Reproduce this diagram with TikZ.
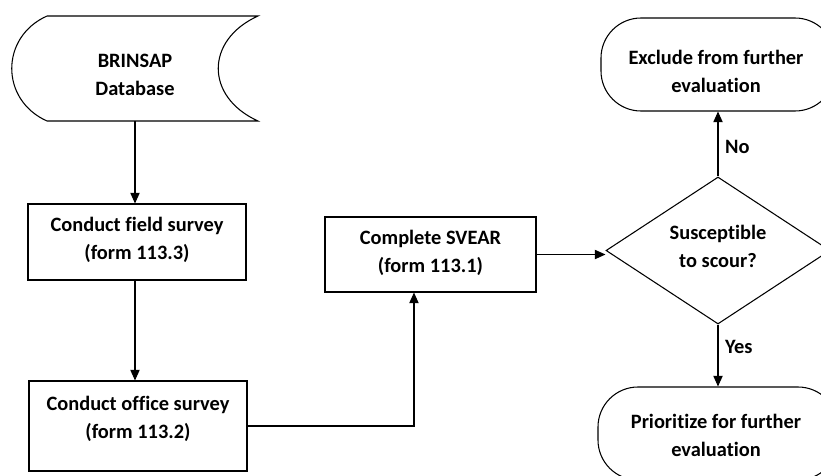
\documentclass[tikz,border=0pt]{standalone}
\usepackage{fontspec}
\setmainfont{Carlito}[Ligatures={NoCommon}]
\usetikzlibrary{shapes.geometric,arrows.meta,calc}

\tikzset{
  base/.style={draw=black, line width=0.8pt, inner sep=0pt, fill=white},
  procbox/.style={base, rectangle},
  termbox/.style={base, rectangle, rounded corners=30pt},
  decision/.style={base, diamond, aspect=1.52},
  txt/.style={font=\fontsize{15.3}{21}\selectfont\bfseries, align=center, inner sep=0pt},
  arr/.style={line width=0.8pt, -{Triangle[length=8pt,width=7pt]}},
  lbl/.style={font=\fontsize{15.3}{21}\selectfont\bfseries, inner sep=0pt}
}

\begin{document}
\begin{tikzpicture}[x=0.75pt, y=-0.75pt]
  \useasboundingbox (0,0) rectangle (821,475);
  \clip (0,0) rectangle (821,475);
  \fill[white] (0,0) rectangle (821,475);

  % stored-data shape for the database
  \draw[line width=0.8pt] (47,16) -- (258,16)
    .. controls (205,40) and (205,97) .. (258,121)
    -- (47,121)
    .. controls (0,100) and (0,37) .. (47,16);
  \node[inner sep=0pt, minimum width=185pt, minimum height=78.75pt] (db) at (135,68.5) {};
  \node[txt] (dbText) at (135,75) {BRINSAP\\Database};

  % process boxes
  \node[procbox, minimum width=163.5pt, minimum height=57pt] (field) at (137,242) {};
  \node[txt] (fieldText) at (137,240) {Conduct field survey\\(form 113.3)};

  \node[procbox, minimum width=163.5pt, minimum height=67.5pt] (office) at (138,426) {};
  \node[txt] (officeText) at (138,418.5) {Conduct office survey\\(form 113.2)};

  \node[procbox, minimum width=158.25pt, minimum height=56.25pt] (svear) at (430.5,254.5) {};
  \node[txt] (svearText) at (430.5,252.5) {Complete SVEAR\\(form 113.1)};

  % decision
  \node[decision, minimum width=168pt, minimum height=110.25pt] (dia) at (718,250.5) {};
  \node[txt] (diaText) at (718,246.5) {Susceptible\\to scour?};

  % terminators
  \node[termbox, minimum width=175.5pt, minimum height=69.75pt] (excl) at (718,64.5) {};
  \node[txt] (exclText) at (716,71.5) {Exclude from further\\evaluation};

  \node[termbox, minimum width=180pt, minimum height=69.75pt] (prio) at (718,433.5) {};
  \node[txt] (prioText) at (716,435.5) {Prioritize for further\\evaluation};

  % connectors
  \draw[arr] (db.south) -- (db.south |- field.north);
  \draw[arr] ([xshift=-1.5pt]field.south) -- ([xshift=-1.5pt]field.south |- office.north);
  \draw[arr] (office.east) -| ([xshift=-12.4pt]svear.south);
  \draw[arr] (svear.east) -- (svear.east -| dia.west);
  \draw[arr] (dia.north) -- node[pos=0.45, right=5pt, lbl] (noLbl) {No} (excl.south);
  \draw[arr] (dia.south) -- node[pos=0.37, right=5pt, lbl] (yesLbl) {Yes} (prio.north);
\end{tikzpicture}
\end{document}
